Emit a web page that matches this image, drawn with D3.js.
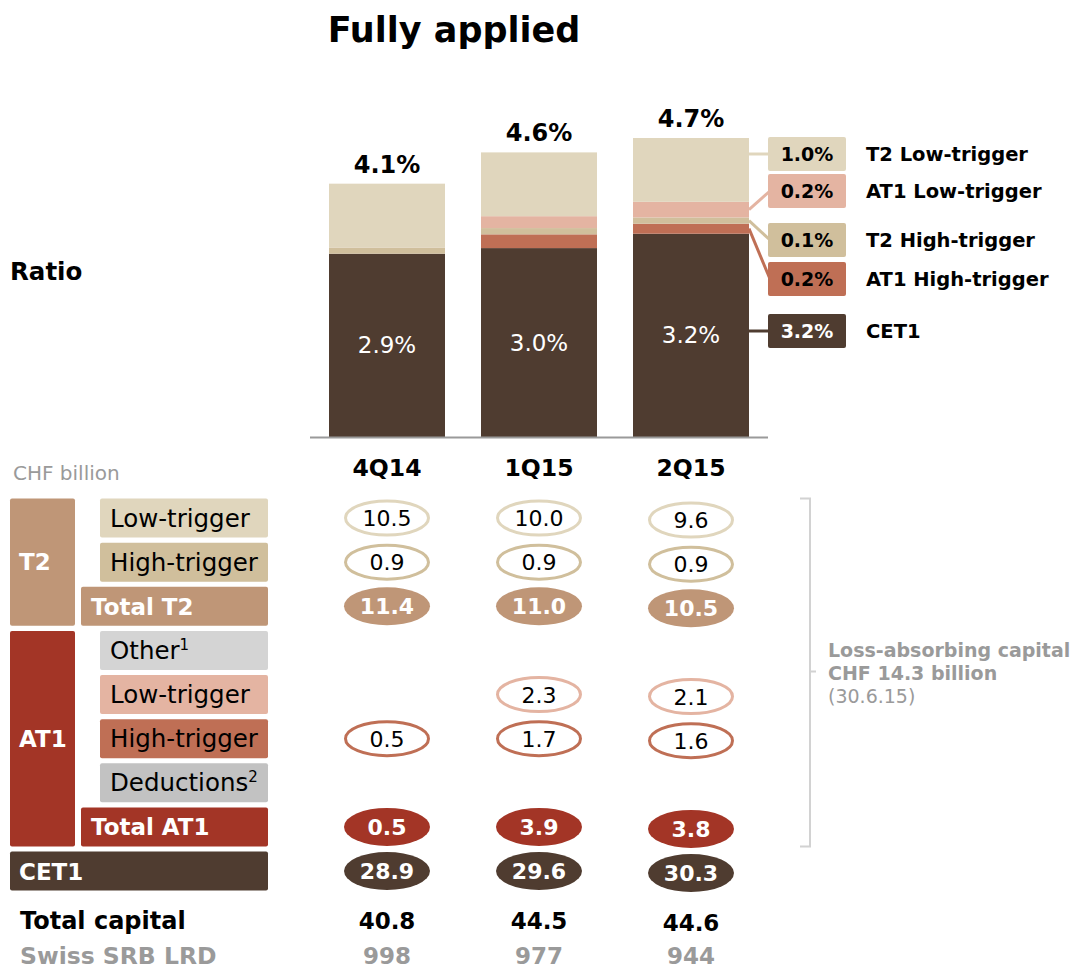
<!DOCTYPE html>
<html>
<head>
<meta charset="utf-8">
<style>
  body { margin: 0; background: #fff; }
  svg { font-family: "DejaVu Sans", sans-serif; }
</style>
</head>
<body>
<svg id="chart" width="1078" height="969"></svg>
<script src="https://cdn.jsdelivr.net/npm/d3@7"></script>
<script>
// ---- data ----
let quarters = ["4Q14", "1Q15", "2Q15"]
let totalRatioLabels = ["4.1%", "4.6%", "4.7%"]
let cet1RatioLabels = ["2.9%", "3.0%", "3.2%"]

// ratio segments in %, bottom to top
let cet1Ratio = [2.93, 3.02, 3.25]
let at1HighRatio = [0, 0.22, 0.16]
let t2HighRatio = [0.1, 0.1, 0.1]
let at1LowRatio = [0, 0.19, 0.25]
let t2LowRatio = [1.02, 1.02, 1.02]

let legendNames = ["T2 Low-trigger", "AT1 Low-trigger", "T2 High-trigger", "AT1 High-trigger", "CET1"]
let legendValues = ["1.0%", "0.2%", "0.1%", "0.2%", "3.2%"]

// capital table, CHF billion (null = no value)
let rowLabels = ["Low-trigger", "High-trigger", "Total T2", "Other", "Low-trigger", "High-trigger", "Deductions", "Total AT1", "CET1"]
let t2Low = [10.5, 10.0, 9.6]
let t2High = [0.9, 0.9, 0.9]
let t2Total = [11.4, 11.0, 10.5]
let at1Other = [null, null, null]
let at1Low = [null, 2.3, 2.1]
let at1High = [0.5, 1.7, 1.6]
let at1Deductions = [null, null, null]
let at1Total = [0.5, 3.9, 3.8]
let cet1 = [28.9, 29.6, 30.3]
let totalCapital = [40.8, 44.5, 44.6]
let swissLrd = [998, 977, 944]

// ---- colours ----
let colT2Low = "#e0d6bd", colT2High = "#d0bf9c", colT2 = "#bf9677"
let colAT1Low = "#e4b4a2", colAT1High = "#bf6f55", colAT1 = "#a33526"
let colCET1 = "#4f3c30", colOther = "#d4d4d4", colDed = "#c2c2c2"
let grey = "#9a9a9a"

let svg = d3.select("#chart")

// ---- top: ratio bars ----
let x = d3.scaleBand().domain(quarters).range([329, 749]).paddingInner(36 / 152).paddingOuter(0)
let y = d3.scaleLinear().domain([0, 4.78]).range([437, 138])
let mid = q => x(q) + x.bandwidth() / 2

let segKeys = ["cet1", "at1High", "t2High", "at1Low", "t2Low"]
let segColors = { cet1: colCET1, at1High: colAT1High, t2High: colT2High, at1Low: colAT1Low, t2Low: colT2Low }
let ratioRows = quarters.map((q, i) => ({
  q: q, cet1: cet1Ratio[i], at1High: at1HighRatio[i], t2High: t2HighRatio[i],
  at1Low: at1LowRatio[i], t2Low: t2LowRatio[i]
}))
let stacked = d3.stack().keys(segKeys)(ratioRows)

svg.append("text").attr("x", 454).attr("y", 42).attr("text-anchor", "middle")
  .attr("font-size", 35).attr("font-weight", 700).text("Fully applied")

svg.append("text").attr("x", 10).attr("y", 280)
  .attr("font-size", 24.5).attr("font-weight", 700).text("Ratio")

let bars = svg.append("g")
bars.selectAll("g").data(stacked).enter().append("g")
  .attr("fill", d => segColors[d.key])
  .selectAll("rect").data(d => d).enter().append("rect")
    .attr("x", d => x(d.data.q))
    .attr("width", x.bandwidth())
    .attr("y", d => y(d[1]))
    .attr("height", d => y(d[0]) - y(d[1]))

// baseline
svg.append("line").attr("x1", 310).attr("x2", 768).attr("y1", 437.5).attr("y2", 437.5)
  .attr("stroke", grey).attr("stroke-width", 2)

// totals above bars
let topLayer = stacked[stacked.length - 1]
svg.append("g").selectAll("text").data(quarters).enter().append("text")
  .attr("x", d => mid(d))
  .attr("y", (d, i) => y(topLayer[i][1]) - 11)
  .attr("text-anchor", "middle").attr("font-size", 24).attr("font-weight", 700)
  .text((d, i) => totalRatioLabels[i])

// CET1 labels inside bars
svg.append("g").selectAll("text").data(quarters).enter().append("text")
  .attr("x", d => mid(d))
  .attr("y", (d, i) => y(cet1Ratio[i] / 2) + 8)
  .attr("text-anchor", "middle").attr("font-size", 23).attr("fill", "#fff")
  .text((d, i) => cet1RatioLabels[i])

// category labels
svg.append("g").selectAll("text").data(quarters).enter().append("text")
  .attr("x", d => mid(d)).attr("y", 476)
  .attr("text-anchor", "middle").attr("font-size", 23.5).attr("font-weight", 700)
  .text(d => d)

// legend boxes with connectors to last bar
let legendKeys = ["t2Low", "at1Low", "t2High", "at1High", "cet1"]
let legendY = [154, 191, 240, 279, 331]
let lastIdx = quarters.length - 1
let barRight = x(quarters[lastIdx]) + x.bandwidth()
let boxX = 768, boxW = 78, boxH = 34

let legend = svg.append("g")
legendKeys.forEach((k, i) => {
  let layer = stacked.find(s => s.key == k)[lastIdx]
  let segTop = y(layer[1]), segBot = y(layer[0])
  let cy = legendY[i]
  let startY = (cy > segTop && cy < segBot) ? cy : (segTop + segBot) / 2
  legend.append("line")
    .attr("x1", barRight).attr("y1", startY).attr("x2", boxX + 2).attr("y2", cy)
    .attr("stroke", segColors[k]).attr("stroke-width", 3)
  legend.append("rect").attr("x", boxX).attr("y", cy - boxH / 2)
    .attr("width", boxW).attr("height", boxH).attr("rx", 2).attr("fill", segColors[k])
  legend.append("text").attr("x", boxX + boxW / 2).attr("y", cy + 7)
    .attr("text-anchor", "middle").attr("font-size", 19).attr("font-weight", 700)
    .attr("fill", k == "cet1" ? "#fff" : "#000").text(legendValues[i])
  legend.append("text").attr("x", 866).attr("y", cy + 7)
    .attr("font-size", 19.5).attr("font-weight", 700).text(legendNames[i])
})

// ---- bottom: capital table ----
svg.append("text").attr("x", 13).attr("y", 480)
  .attr("font-size", 20).attr("fill", grey).text("CHF billion")

let rowY = d3.scalePoint().domain(d3.range(9)).range([518, 871])
let rowH = 39

// group boxes
let groupBoxes = [
  { label: "T2", from: 0, to: 2, color: colT2 },
  { label: "AT1", from: 3, to: 7, color: colAT1 }
]
groupBoxes.forEach(g => {
  let y0 = rowY(g.from) - rowH / 2, y1 = rowY(g.to) + rowH / 2
  svg.append("rect").attr("x", 10).attr("y", y0).attr("width", 65).attr("height", y1 - y0)
    .attr("rx", 2).attr("fill", g.color)
  svg.append("text").attr("x", 19).attr("y", (y0 + y1) / 2 + 8)
    .attr("font-size", 23).attr("font-weight", 700).attr("fill", "#fff").text(g.label)
})

let rowStyle = [
  { fill: colT2Low, total: false, sup: "" },
  { fill: colT2High, total: false, sup: "" },
  { fill: colT2, total: true, sup: "" },
  { fill: colOther, total: false, sup: "1" },
  { fill: colAT1Low, total: false, sup: "" },
  { fill: colAT1High, total: false, sup: "" },
  { fill: colDed, total: false, sup: "2" },
  { fill: colAT1, total: true, sup: "" },
  { fill: colCET1, total: true, sup: "" }
]
let tableValues = [t2Low, t2High, t2Total, at1Other, at1Low, at1High, at1Deductions, at1Total, cet1]

rowLabels.forEach((lab, r) => {
  let st = rowStyle[r]
  let cy = rowY(r)
  let bx = r == 8 ? 10 : (st.total ? 81 : 100)
  svg.append("rect").attr("x", bx).attr("y", cy - rowH / 2).attr("width", 268 - bx).attr("height", rowH)
    .attr("rx", 2).attr("fill", st.fill)
  let t = svg.append("text").attr("x", bx + (r == 8 ? 9 : 10)).attr("y", cy + 8.5)
    .attr("font-size", st.total ? 23 : 24.5).attr("font-weight", st.total ? 700 : 400)
    .attr("fill", st.total ? "#fff" : "#000").text(lab)
  if (st.sup) t.append("tspan").attr("dy", -9).attr("font-size", 15).text(st.sup)
})

// value ellipses
let ellipses = svg.append("g")
tableValues.forEach((vals, r) => {
  let st = rowStyle[r]
  vals.forEach((v, c) => {
    if (v == null) return
    let cx = mid(quarters[c])
    let cy = rowY(r) + (c == 2 ? 2 : 0)
    ellipses.append("ellipse").attr("cx", cx).attr("cy", cy)
      .attr("rx", st.total ? 43 : 41.5).attr("ry", st.total ? 19 : 17)
      .attr("fill", st.total ? st.fill : "#fff")
      .attr("stroke", st.fill).attr("stroke-width", st.total ? 0 : 3)
    ellipses.append("text").attr("x", cx).attr("y", cy + 8).attr("text-anchor", "middle")
      .attr("font-size", 22).attr("font-weight", st.total ? 700 : 400)
      .attr("fill", st.total ? "#fff" : "#000").text(d3.format(".1f")(v))
  })
})

// totals rows
svg.append("text").attr("x", 20).attr("y", 929).attr("font-size", 24).attr("font-weight", 700)
  .text("Total capital")
svg.append("text").attr("x", 20).attr("y", 964).attr("font-size", 23.5).attr("font-weight", 700)
  .attr("fill", grey).text("Swiss SRB LRD")
svg.append("g").selectAll("text").data(totalCapital).enter().append("text")
  .attr("x", (d, i) => mid(quarters[i])).attr("y", (d, i) => 929 + (i == 2 ? 2 : 0))
  .attr("text-anchor", "middle").attr("font-size", 23).attr("font-weight", 700)
  .text(d => d3.format(".1f")(d))
svg.append("g").selectAll("text").data(swissLrd).enter().append("text")
  .attr("x", (d, i) => mid(quarters[i])).attr("y", 964)
  .attr("text-anchor", "middle").attr("font-size", 23).attr("font-weight", 700)
  .attr("fill", grey).text(d => d)

// bracket for loss-absorbing capital
let bTop = rowY(0) - rowH / 2, bBot = rowY(7) + rowH / 2
svg.append("path")
  .attr("d", `M800,${bTop}H810V${bBot}H800M810,${(bTop + bBot) / 2 - 1}H816`)
  .attr("fill", "none").attr("stroke", "#d2d2d2").attr("stroke-width", 2)
let note = svg.append("g").attr("fill", grey).attr("font-size", 19)
note.append("text").attr("x", 828).attr("y", 657).attr("font-weight", 700).text("Loss-absorbing capital")
note.append("text").attr("x", 828).attr("y", 680).attr("font-weight", 700).text("CHF 14.3 billion")
note.append("text").attr("x", 828).attr("y", 703).text("(30.6.15)")
</script>
</body>
</html>
